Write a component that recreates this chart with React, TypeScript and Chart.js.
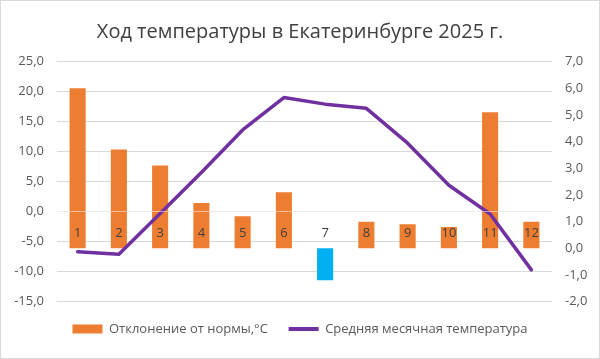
import React, { useEffect, useRef } from "react";
import { Chart, registerables } from "chart.js";

Chart.register(...registerables);

const chartTitle = "Ход температуры в Екатеринбурге 2025 г.";
const months = ["1", "2", "3", "4", "5", "6", "7", "8", "9", "10", "11", "12"];
const deviationLabel = "Отклонение от нормы,°C";
const deviation = [6.0, 3.7, 3.1, 1.7, 1.2, 2.1, -1.2, 1.0, 0.9, 0.8, 5.1, 1.0];
const meanTempLabel = "Средняя месячная температура";
const meanTemp = [-6.7, -7.1, -0.3, 6.5, 13.6, 19.0, 17.9, 17.2, 11.4, 4.4, -0.4, -9.7];
const leftTicks = { min: -15, max: 25, step: 5 };
const rightTicks = { min: -2, max: 7, step: 1 };

const ORANGE = "#ED7D31";
const BLUE = "#00B0F0";
const PURPLE = "#7030A0";
const FONT = "'Open Sans', 'DejaVu Sans', sans-serif";

const fmt = (v: number | string) => Number(v).toFixed(1).replace(".", ",");

export default function App() {
  const ref = useRef<HTMLCanvasElement>(null);

  useEffect(() => {
    if (!ref.current) return;
    Chart.defaults.font.family = FONT;
    const chart = new Chart(ref.current, {
      type: "bar",
      data: {
        labels: months,
        datasets: [
          {
            type: "bar",
            label: deviationLabel,
            data: deviation,
            xAxisID: "x",
            yAxisID: "y1",
            backgroundColor: deviation.map((v) => (v < 0 ? BLUE : ORANGE)),
            borderWidth: 0,
            barPercentage: 0.39,
            categoryPercentage: 1,
            order: 1,
          },
          {
            type: "line",
            label: meanTempLabel,
            data: meanTemp,
            xAxisID: "x",
            yAxisID: "y",
            borderColor: PURPLE,
            backgroundColor: PURPLE,
            borderWidth: 3.5,
            pointRadius: 0,
            tension: 0,
            fill: false,
            borderJoinStyle: "round",
            borderCapStyle: "round",
            order: 0,
          },
        ] as any,
      },
      options: {
        animation: false,
        responsive: true,
        maintainAspectRatio: false,
        events: [],
        layout: { padding: { left: 0, right: 0, top: 0, bottom: 12.5 } },
        plugins: {
          title: {
            display: true,
            text: chartTitle,
            color: "#404040",
            font: { family: FONT, size: 20, weight: "normal" },
            padding: { top: 19, bottom: 17.5 },
          },
          legend: {
            display: true,
            position: "bottom",
            labels: {
              usePointStyle: true,
              pointStyleWidth: 30,
              boxHeight: 9,
              padding: 20.8,
              color: "#595959",
              font: { family: FONT, size: 13 },
              generateLabels: () => [
                {
                  text: deviationLabel,
                  fillStyle: ORANGE,
                  strokeStyle: ORANGE,
                  lineWidth: 0,
                  pointStyle: "rect",
                  hidden: false,
                  datasetIndex: 0,
                  fontColor: "#595959",
                } as any,
                {
                  text: meanTempLabel,
                  fillStyle: PURPLE,
                  strokeStyle: PURPLE,
                  lineWidth: 4,
                  pointStyle: "line",
                  hidden: false,
                  datasetIndex: 1,
                  fontColor: "#595959",
                } as any,
              ],
            },
          },
          tooltip: { enabled: false },
        },
        scales: {
          x: {
            type: "category",
            position: { y: 0 } as any,
            offset: true,
            grid: { display: false, drawTicks: false },
            border: { display: true, color: "rgba(255,255,255,0.5)", width: 1, z: 1 },
            ticks: {
              z: 1,
              padding: 14,
              color: "#404040",
              font: { family: FONT, size: 13 },
              maxRotation: 0,
              autoSkip: false,
            },
          },
          y: {
            position: "left",
            min: leftTicks.min,
            max: leftTicks.max,
            ticks: {
              stepSize: leftTicks.step,
              padding: 13,
              color: "#595959",
              font: { family: FONT, size: 13 },
              callback: (v: any) => fmt(v),
            },
            grid: { color: "#d9d9d9", lineWidth: 1, drawTicks: false },
            border: { display: false },
            afterFit: (s: any) => {
              s.width = 56;
            },
          },
          y1: {
            position: "right",
            min: rightTicks.min,
            max: rightTicks.max,
            ticks: {
              stepSize: rightTicks.step,
              padding: 13,
              color: "#595959",
              font: { family: FONT, size: 13 },
              callback: (v: any) => fmt(v),
            },
            grid: { display: false, drawTicks: false },
            border: { display: false },
            afterFit: (s: any) => {
              s.width = 47;
            },
          },
        } as any,
      },
    });
    return () => chart.destroy();
  }, []);

  return (
    <div
      style={{
        position: "fixed",
        left: 0,
        top: 0,
        width: 600,
        height: 359,
        boxSizing: "border-box",
        border: "1px solid #d9d9d9",
        background: "#ffffff",
      }}
    >
      <div style={{ position: "relative", width: 598, height: 357 }}>
        <canvas ref={ref} />
      </div>
    </div>
  );
}
